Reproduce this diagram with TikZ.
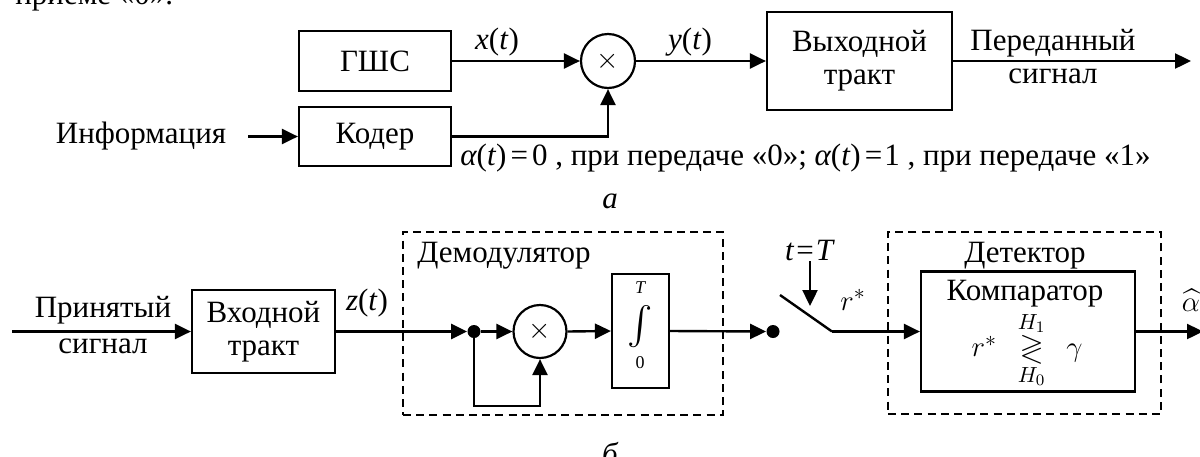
\documentclass[tikz,border=0pt]{standalone}
\usepackage{amsmath,amssymb}
\usepackage{fontspec}
\setmainfont{Liberation Serif}
\usetikzlibrary{arrows.meta}
\begin{document}
\begin{tikzpicture}[x=0.5pt,y=-0.5pt,
  font=\fontsize{15.5}{16.5}\selectfont,
  box/.style={draw, line width=1.1pt, inner sep=0pt, align=center},
  dashbox/.style={draw, line width=0.9pt, dash pattern=on 4pt off 2.6pt, inner sep=0pt},
  arr/.style={line width=1.2pt, -{Triangle[length=8pt,width=7.5pt]}},
  wire/.style={line width=1.2pt},
  dotnode/.style={circle, fill, inner sep=0pt, minimum size=6.5pt},
  mult/.style={circle, draw, line width=1.1pt, inner sep=0pt, minimum size=27pt},
  txt/.style={inner sep=0pt}]
\useasboundingbox (0,0) rectangle (1200,456);

% cut-off line of the page text
\node[txt, anchor=base west] (top) at (15,4) {приеме «0».};

% ---------- a ----------
\node[box, minimum width=76pt, minimum height=30pt] (gsc) at (375,61) {ГШС};
\node[box, minimum width=76pt, minimum height=29.7pt] (coder) at (375,136.5) {Кодер};
\node[mult] (m1) at (608,61) {$\times$};
\node[box, minimum width=92.5pt, minimum height=49pt] (outb) at (859.5,61) {Выходной\\тракт};

\node[txt, anchor=base] (info) at (141,143) {Информация};
\coordinate (infoA) at (248,136.5);
\draw[arr] (infoA) -- (coder.west);
\draw[arr] (gsc.east) -- (m1.west);
\draw[arr] (coder.east) -| (m1.south);
\draw[arr] (m1.east) -- (outb.west);
\coordinate (outA) at (1191,61);
\draw[arr] (outb.east) -- (outA);

\node[txt] (xl) at (497,42) {\textit{x}(\textit{t})};
\node[txt] (yl) at (690,42) {\textit{y}(\textit{t})};
\node[txt, anchor=base] (sent1) at (1053,50) {Переданный};
\node[txt, anchor=base] (sent2) at (1053,83) {сигнал};

\node[txt, anchor=base west] (cond) at (460,165) {{\itshape α}(\textit{t})\kern2pt=\kern2pt0 , при передаче «0»; {\itshape α}(\textit{t})\kern2pt=\kern1pt1 , при передаче «1»};
\node[txt, anchor=base] (la) at (610,208) {\itshape а};

% ---------- b ----------
\node[box, minimum width=71.5pt, minimum height=41.5pt] (inb) at (263.5,331.5) {Входной\\тракт};
\coordinate (inA) at (12,331.5);
\draw[arr] (inA) -- (inb.west);
\node[txt, anchor=base] (rec1) at (103,317) {Принятый};
\node[txt, anchor=base] (rec2) at (103,353) {сигнал};
\node[txt] (zl) at (367,303) {\textit{z}(\textit{t})};

\node[dashbox, minimum width=160pt, minimum height=91.5pt] (demod) at (563,323.5) {};
\node[txt, anchor=base west] (demodl) at (417,262) {Демодулятор};
\node[dotnode] (d1) at (474,331.5) {};
\node[mult, minimum size=26.5pt] (m2) at (540,331.5) {$\times$};
\node[box, minimum width=28.5pt, minimum height=57pt] (integ) at (640.5,331) {};
\node[txt, font=\fontsize{9}{9}\selectfont\itshape] (intT) at (640,288) {T};
\node[txt] (ints) at (640,327) {\fontsize{19}{19}\selectfont$\int$};
\node[txt, font=\fontsize{9}{9}\selectfont] (int0) at (640,363) {0};
\draw[arr] (inb.east) -- (d1.west);
\draw[arr] (d1) -- (m2.west);
\draw[arr] (d1.center) -- ++(0,74.5) -| (m2.south);
\draw[arr] (m2.east) -- (integ.west);
\node[dotnode] (d2) at (773,331.5) {};
\draw[arr] (integ.east) -- (d2.west);

% switch
\coordinate (swA) at (780,295);
\coordinate (swB) at (832,331.5);
\draw[wire] (swA) -- (swB);
\node[txt] (tT) at (810,250) {\textit{t}\kern1pt=\kern1pt\textit{T}};
\coordinate (tA) at (810,261);
\coordinate (tB) at (810,306);
\draw[arr] (tA) -- (tB);
\node[txt] (rs) at (853,300) {$r^{*}$};

\node[dashbox, minimum width=136.5pt, minimum height=91pt] (det) at (1024.5,323) {};
\node[txt, anchor=base] (detl) at (1025,262) {Детектор};
\node[box, minimum width=107pt, minimum height=60pt] (comp) at (1028,331.5) {};
\node[txt, anchor=base] (compl) at (1025,300) {Компаратор};
\node[txt] (form) at (1027,350) {$r^{*}\;\;\mathop{\gtrless}\limits^{H_1}_{H_0}\;\;\gamma$};
\draw[arr] (swB) -- (comp.west);
\coordinate (outB) at (1203,331.5);
\draw[arr] (comp.east) -- (outB);
\node[txt] (ahat) at (1191,300) {$\widehat{\alpha}$};
\node[txt, anchor=base] (lb) at (610,464) {\itshape б};
\end{tikzpicture}
\end{document}
